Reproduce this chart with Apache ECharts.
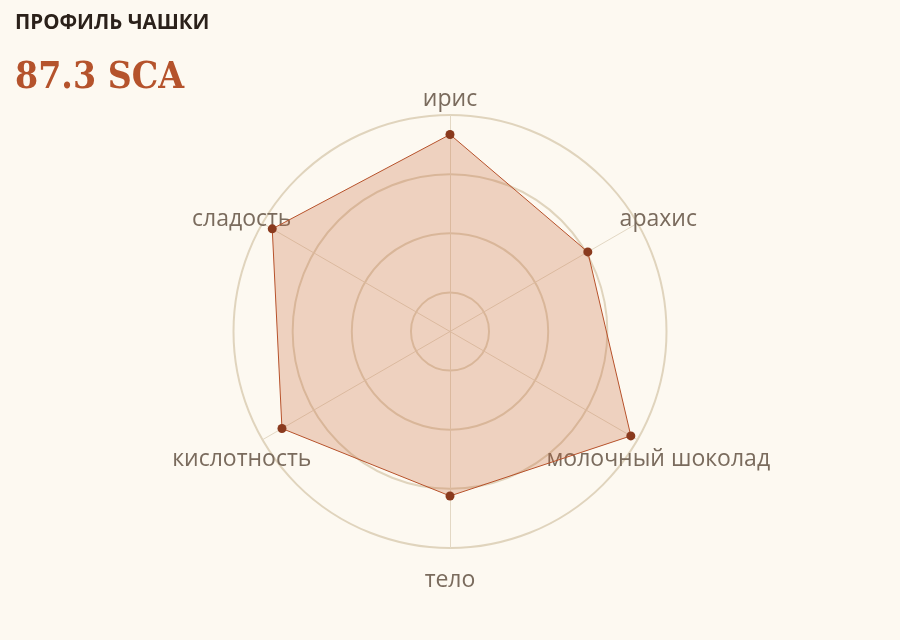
<!DOCTYPE html>
<html>
<head>
<meta charset="utf-8">
<script src="https://cdn.jsdelivr.net/npm/echarts@6/dist/echarts.min.js"></script>
<style>
html,body{margin:0;padding:0;background:#fdf9f1;}
#chart{width:900px;height:640px;}
</style>
</head>
<body>
<div id="chart"></div>
<script>
// clockwise from top
const categories = ['ирис', 'арахис', 'молочный шоколад', 'тело', 'кислотность', 'сладость'];
const values = [9.67, 9.03, 9.87, 9.12, 9.62, 9.81];
const ringTicks = [7, 8, 9, 10];
const scoreValue = 87.3;
const titleText = 'ПРОФИЛЬ ЧАШКИ';
const scoreUnit = 'SCA';

const scaleMin = 6.34, scaleMax = 10;
const R = 216.5;
const centerPos = ['50%', 331.5];
const innerR = R * (ringTicks[0] - scaleMin) / (scaleMax - scaleMin);

// ECharts radar runs counter-clockwise; reorder so the picture reads clockwise
const order = [0].concat(categories.map((_, i) => i).slice(1).reverse());
const indicators = order.map(i => ({ name: categories[i], min: scaleMin, max: scaleMax }));
const seriesValues = order.map(i => values[i]);

const chart = echarts.init(document.getElementById('chart'));
chart.setOption({
  backgroundColor: '#fdf9f1',
  animation: false,
  title: [
    { text: titleText, left: 10, top: 8,
      textStyle: { fontFamily: 'Open Sans', fontWeight: 'bold', fontSize: 20.5, color: '#2b211a' } },
    { text: scoreValue.toFixed(1) + ' ' + scoreUnit, left: 10, top: 55,
      textStyle: { fontFamily: 'DejaVu Serif Condensed', fontWeight: 'bold', fontSize: 37, color: '#b5532c' } }
  ],
  polar: { center: centerPos, radius: [innerR, R] },
  angleAxis: { type: 'value', show: false, min: 0, max: 360 },
  radiusAxis: {
    type: 'value', min: ringTicks[0], max: ringTicks[ringTicks.length - 1], interval: 1,
    axisLine: { show: false }, axisTick: { show: false }, axisLabel: { show: false },
    splitLine: { show: true, lineStyle: { color: '#e0d4bd', width: 2 } }
  },
  radar: {
    center: centerPos,
    radius: R,
    startAngle: 90,
    shape: 'circle',
    indicator: indicators,
    nameGap: 24,
    axisName: { color: '#7a6b5d', fontSize: 23, fontFamily: 'Open Sans', align: 'center', verticalAlign: 'top', lineHeight: 16 },
    axisLine: { lineStyle: { color: '#e3d8c4', width: 1 } },
    splitLine: { show: false },
    splitArea: { show: false }
  },
  series: [{
    type: 'radar',
    symbol: 'circle',
    symbolSize: 9,
    lineStyle: { color: '#b5502a', width: 1 },
    itemStyle: { color: '#8a3a1e' },
    areaStyle: { color: 'rgba(200,101,58,0.38)' },
    data: [{ value: seriesValues }]
  }]
});
</script>
</body>
</html>
